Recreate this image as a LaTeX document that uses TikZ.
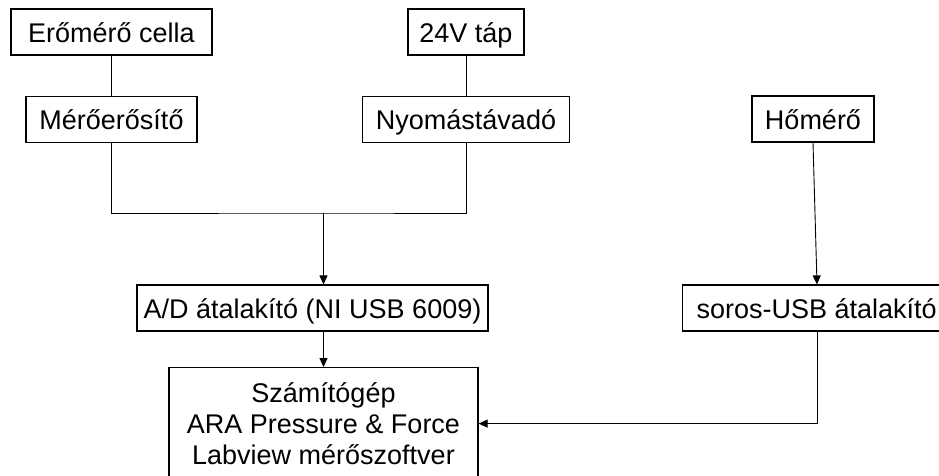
\documentclass[tikz,border=0pt]{standalone}
\usepackage{fontspec}
\setmainfont{Liberation Sans}
\usepackage{tikz}
\usetikzlibrary{arrows.meta}
\usetikzlibrary{positioning}
\newcommand\mynode[4][]{%
  \node[mynode,#1,minimum width=#2pt] (#3) {#4};
}

\begin{document}
\begin{tikzpicture}[x=1pt,y=-1pt,
node distance=40pt,
doboz/.style={
  draw,
  line width=1.2pt,
  inner sep=0pt,
  font=\fontsize{27}{31}\selectfont,
  align=center},
mynode/.style={
  doboz,
  minimum height=46pt,
  text height=21pt,
  text depth=0pt},
wire/.style={line width=0.9pt},
arr/.style={wire,-{Triangle[length=9pt,width=8pt]}}
]
\useasboundingbox (0,0) rectangle (939,475);
\clip (0,0) rectangle (939,475);
% felso sor
\mynode[at={(111.5,32)}]{201}{erocella}{Erőmérő cella}
\mynode[below=of erocella]{171}{meroerosito}{Mérőerősítő}
\mynode[at={(466,32)}]{116}{tap}{24V táp}
\mynode[below=of tap]{207}{nyomas}{Nyomástávadó}
\mynode[at={(813,119)}]{122}{homero}{Hőmérő}
% atalakitok
\mynode[at={(312.5,308)}]{351}{ad}{A/D átalakító (NI USB 6009)}
\mynode[anchor=west,at={(682,308)}]{268}{soros}{soros-USB átalakító}
\node[doboz,anchor=north,minimum width=309pt,minimum height=112pt] (szamitogep) at (323.5,367)
  {Számítógép\\ARA Pressure \& Force\\ Labview mérőszoftver};
\coordinate (gyujto) at (szamitogep.north |- 0,213);
\coordinate (usbki) at ([xshift=4pt]homero.south |- soros.south);
\draw [wire] (erocella) -- (meroerosito);
\draw [wire] (tap) -- (nyomas);
\draw [wire] (meroerosito.south) |- (gyujto) -| (nyomas.south);
\draw [arr] (gyujto) -- (gyujto |- ad.north);
\draw [arr] (szamitogep.north |- ad.south) -- (szamitogep.north);
\draw [arr] (homero.south) -- (usbki |- soros.north);
\draw [arr] (usbki) |- (szamitogep.east);
\end{tikzpicture}
\end{document}
